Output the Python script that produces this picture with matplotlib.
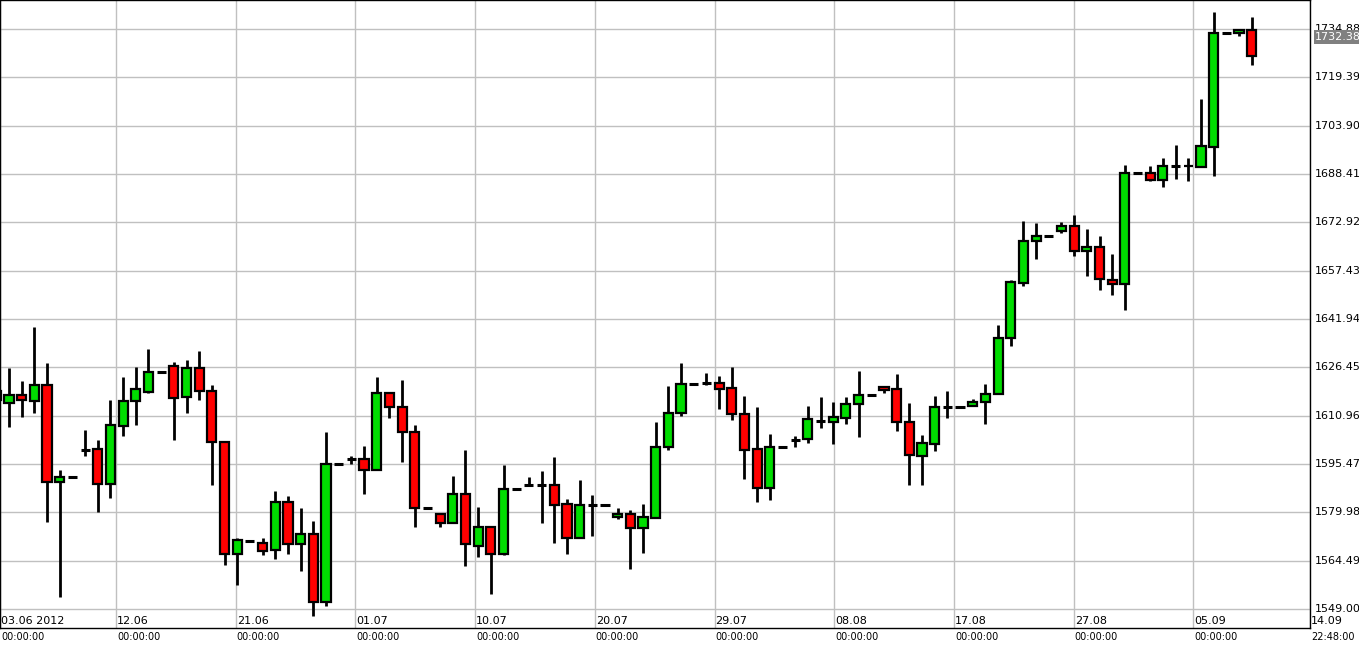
import numpy as np
import matplotlib.pyplot as plt

# OHLC per session
opens = [1616.0, 1615.0, 1617.5, 1615.8, 1620.9, 1589.8, 1591.2, 1600.0, 1600.2, 1589.1, 1607.5,
         1615.6, 1618.6, 1625.0, 1627.0, 1616.9, 1626.3, 1619.0, 1602.5, 1566.5, 1570.9, 1570.3,
         1568.0, 1583.2, 1569.9, 1573.0, 1551.3, 1595.5, 1597.2, 1597.2, 1593.4, 1618.3, 1613.8,
         1605.7, 1581.3, 1579.4, 1576.7, 1585.8, 1569.3, 1575.2, 1566.7, 1587.4, 1588.8, 1588.8,
         1588.6, 1582.6, 1571.9, 1582.2, 1582.2, 1578.6, 1579.6, 1575.1, 1578.3, 1600.8, 1611.7,
         1621.2, 1621.4, 1621.4, 1619.9, 1611.5, 1600.2, 1587.7, 1600.9, 1603.1, 1603.6, 1609.1,
         1608.9, 1610.2, 1614.7, 1617.7, 1620.1, 1619.5, 1608.9, 1598.1, 1602.0, 1613.6, 1613.6,
         1614.0, 1615.3, 1617.9, 1635.9, 1653.6, 1666.8, 1668.4, 1670.2, 1671.8, 1663.6, 1665.1,
         1654.5, 1653.3, 1688.9, 1688.9, 1686.6, 1690.9, 1690.9, 1690.6, 1697.0, 1733.7, 1733.7,
         1734.7]
highs = [1624.0, 1626.3, 1622.0, 1639.4, 1627.7, 1593.6, 1591.3, 1606.5, 1603.2, 1616.1, 1623.3,
         1626.5, 1632.2, 1625.1, 1628.2, 1628.7, 1631.7, 1620.7, 1602.9, 1571.6, 1571.0, 1571.8,
         1586.8, 1585.3, 1581.5, 1577.2, 1605.6, 1595.6, 1598.1, 1601.1, 1623.3, 1618.5, 1622.3,
         1608.1, 1581.4, 1579.4, 1591.5, 1599.8, 1581.8, 1575.6, 1595.2, 1587.5, 1591.2, 1593.3,
         1597.6, 1584.3, 1590.2, 1585.6, 1582.3, 1581.5, 1580.8, 1582.7, 1608.8, 1620.4, 1627.9,
         1621.3, 1624.5, 1623.6, 1626.5, 1617.2, 1613.6, 1605.2, 1601.0, 1604.5, 1614.0, 1616.9,
         1615.3, 1616.9, 1625.2, 1617.8, 1620.1, 1624.2, 1615.0, 1604.9, 1617.2, 1618.8, 1613.7,
         1616.4, 1621.2, 1640.0, 1654.4, 1673.4, 1672.6, 1668.5, 1673.2, 1675.4, 1670.8, 1668.4,
         1662.7, 1691.4, 1689.0, 1690.9, 1693.6, 1697.6, 1693.6, 1712.4, 1740.2, 1733.8, 1734.7,
         1738.6]
lows = [1614.0, 1607.4, 1610.4, 1611.8, 1576.8, 1552.9, 1591.1, 1597.9, 1580.2, 1584.5, 1604.6,
        1607.9, 1618.3, 1624.9, 1603.2, 1611.8, 1616.0, 1588.8, 1563.0, 1556.8, 1570.8, 1566.3,
        1564.9, 1566.6, 1561.3, 1546.7, 1550.0, 1595.4, 1595.5, 1585.8, 1593.4, 1610.3, 1596.1,
        1575.2, 1581.2, 1575.2, 1576.5, 1562.9, 1565.5, 1553.7, 1566.3, 1587.3, 1588.6, 1576.5,
        1570.0, 1566.6, 1571.9, 1572.3, 1582.1, 1577.9, 1561.7, 1567.1, 1578.3, 1600.1, 1610.7,
        1621.1, 1620.9, 1613.2, 1609.7, 1590.7, 1583.2, 1584.0, 1600.8, 1600.9, 1602.2, 1607.0,
        1601.9, 1608.3, 1604.1, 1617.6, 1618.3, 1605.9, 1588.8, 1588.6, 1599.7, 1610.2, 1613.5,
        1614.0, 1608.3, 1617.9, 1633.3, 1652.5, 1661.3, 1668.3, 1669.5, 1662.0, 1655.6, 1651.1,
        1649.5, 1644.7, 1688.8, 1686.3, 1684.2, 1686.8, 1686.1, 1690.6, 1687.7, 1733.6, 1732.6,
        1723.5]
closes = [1619.0, 1617.5, 1615.9, 1620.9, 1589.8, 1591.2, 1591.2, 1600.0, 1589.1, 1607.9, 1615.8,
          1619.5, 1625.0, 1625.0, 1616.6, 1626.3, 1618.8, 1602.4, 1566.5, 1571.0, 1570.9, 1567.5,
          1583.2, 1569.9, 1573.0, 1551.3, 1595.4, 1595.5, 1597.2, 1593.4, 1618.3, 1613.7, 1605.7,
          1581.3, 1581.3, 1576.7, 1585.8, 1569.7, 1575.2, 1566.7, 1587.4, 1587.4, 1588.8, 1588.8,
          1582.4, 1571.9, 1582.4, 1582.2, 1582.2, 1579.6, 1575.1, 1578.4, 1600.8, 1611.9, 1621.2,
          1621.2, 1621.4, 1619.5, 1611.5, 1600.1, 1587.7, 1600.9, 1600.9, 1603.1, 1609.9, 1609.1,
          1610.4, 1614.8, 1617.7, 1617.7, 1619.3, 1608.8, 1598.4, 1602.2, 1613.6, 1613.6, 1613.6,
          1615.3, 1617.9, 1635.9, 1653.9, 1666.8, 1668.4, 1668.4, 1671.8, 1663.6, 1665.1, 1654.9,
          1653.3, 1688.9, 1688.9, 1686.6, 1690.9, 1690.9, 1691.1, 1697.4, 1733.7, 1733.7, 1734.7,
          1726.2]

date_labels = ["03.06 2012", "12.06", "21.06", "01.07", "10.07", "20.07", "29.07",
               "08.08", "17.08", "27.08", "05.09", "14.09"]
time_labels = ["00:00:00"] * 11 + ["22:48:00"]
price_ticks = [1549.00, 1564.49, 1579.98, 1595.47, 1610.96, 1626.45, 1641.94,
               1657.43, 1672.92, 1688.41, 1703.90, 1719.39, 1734.88]
last_price = 1732.38

opens, highs, lows, closes = map(np.array, (opens, highs, lows, closes))
idx = np.arange(len(opens)) - 1  # first candle is the clipped one at the left edge

fig = plt.figure(figsize=(13.59, 6.47), dpi=100)
ax = fig.add_axes([0, 19 / 647, 1310 / 1359, 628 / 647])

# wicks
ax.vlines(idx, lows, highs, color="black", lw=2, zorder=2)

# bodies
up = closes >= opens
doji = np.abs(closes - opens) < 0.15
body = ~doji
cols = np.where(up, "#00dd00", "#ff0000")
ax.bar(idx[body], (closes - opens)[body], bottom=opens[body], width=0.72,
       color=cols[body], edgecolor="black", linewidth=1.6, zorder=3)
ax.hlines(closes[doji], idx[doji] - 0.36, idx[doji] + 0.36, color="black", lw=2.2, zorder=3)

# date grid: one line every ~9.44 sessions, labels hang to the right of the line
x0, x1 = -0.71, 102.6
tick_pos = [x0] + [8.44 + 9.44 * k for k in range(10)] + [x1]
ax.set_xlim(x0, x1)
ax.set_ylim(1542.9, 1744.2)
ax.set_xticks(tick_pos)
ax.set_xticklabels([])
ax.set_yticks(price_ticks)
ax.set_yticklabels([])
ax.tick_params(length=0)
ax.grid(True, color="#c0c0c0", lw=1)
ax.set_axisbelow(True)
for s in ax.spines.values():
    s.set_color("black")
    s.set_linewidth(1)

trans = ax.get_xaxis_transform()
for x, d, t in zip(tick_pos, date_labels, time_labels):
    ax.text(x + 0.08, 0.003, d, transform=trans, ha="left", va="bottom", fontsize=8, clip_on=False)
    ax.text(x + 0.08, -0.006, t, transform=trans, ha="left", va="top", fontsize=7, clip_on=False)

ytrans = ax.get_yaxis_transform()
for p in price_ticks:
    ax.text(1.004, p, f"{p:.2f}", transform=ytrans, ha="left", va="center", fontsize=8)
ax.text(1.004, last_price, f"{last_price:.2f}", transform=ytrans, ha="left", va="center",
        fontsize=8, color="white", bbox=dict(boxstyle="square,pad=0.15", fc="#808080", ec="none"))

fig.savefig("out.png", dpi=100)
